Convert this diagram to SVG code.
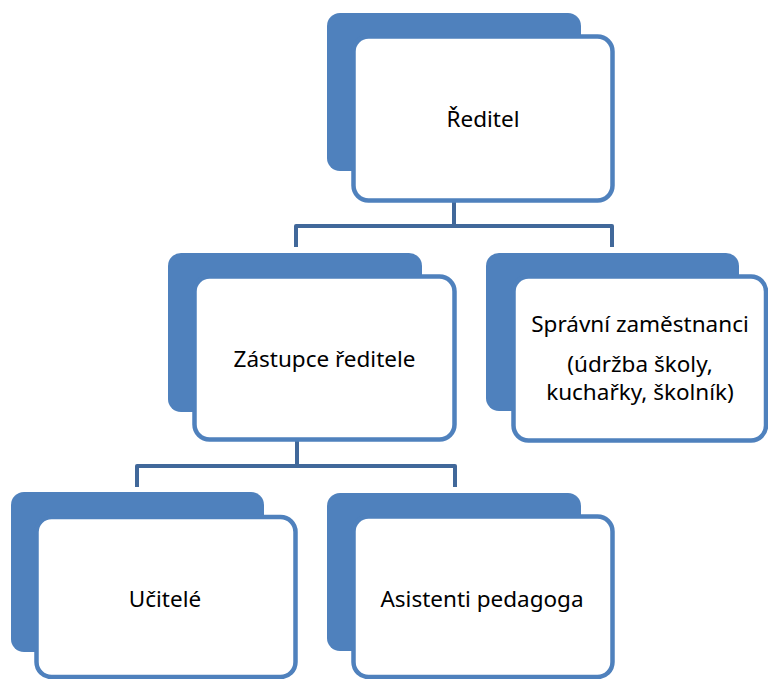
<svg xmlns="http://www.w3.org/2000/svg" width="768" height="679" viewBox="0 0 768 679">
<style>
.back{fill:#4F81BD;}
.front{fill:#FFFFFF;stroke:#4F81BD;stroke-width:4.5;}
.conn{fill:none;stroke:#41689A;stroke-width:4;stroke-linejoin:round;}
text{font-family:"Noto Sans","Open Sans","DejaVu Sans",sans-serif;font-size:22.5px;fill:#000000;text-anchor:middle;}
</style>
<rect width="768" height="679" fill="#FFFFFF"/>
<g id="connectors">
<path class="conn" d="M454 202 V226 M296 247 V226 H612 V247"/>
<path class="conn" d="M297 441 V466 M137 487 V466 H455 V487"/>
</g>
<g id="reditel">
<rect class="back" x="327" y="13" width="254" height="158" rx="13"/>
<rect class="front" x="353.5" y="36.5" width="259" height="164" rx="15"/>
<text x="483" y="127">Ředitel</text>
</g>
<g id="zastupce">
<rect class="back" x="168" y="253" width="254" height="159" rx="13"/>
<rect class="front" x="194.5" y="276.5" width="260" height="163" rx="15"/>
<text x="324.5" y="367">Zástupce ředitele</text>
</g>
<g id="spravni">
<rect class="back" x="486" y="253" width="253" height="158" rx="13"/>
<rect class="front" x="513.5" y="276.5" width="252.5" height="164" rx="15"/>
<text x="640" y="332">Správní zaměstnanci</text>
<text x="640" y="372">(údržba školy,</text>
<text x="640" y="400">kuchařky, školník)</text>
</g>
<g id="ucitele">
<rect class="back" x="11" y="492" width="253" height="160" rx="13"/>
<rect class="front" x="36.5" y="517" width="259" height="160" rx="15"/>
<text x="165" y="607">Učitelé</text>
</g>
<g id="asistenti">
<rect class="back" x="327" y="493" width="254" height="158" rx="13"/>
<rect class="front" x="353.5" y="516.5" width="259" height="160.5" rx="15"/>
<text x="482" y="607">Asistenti pedagoga</text>
</g>
</svg>
